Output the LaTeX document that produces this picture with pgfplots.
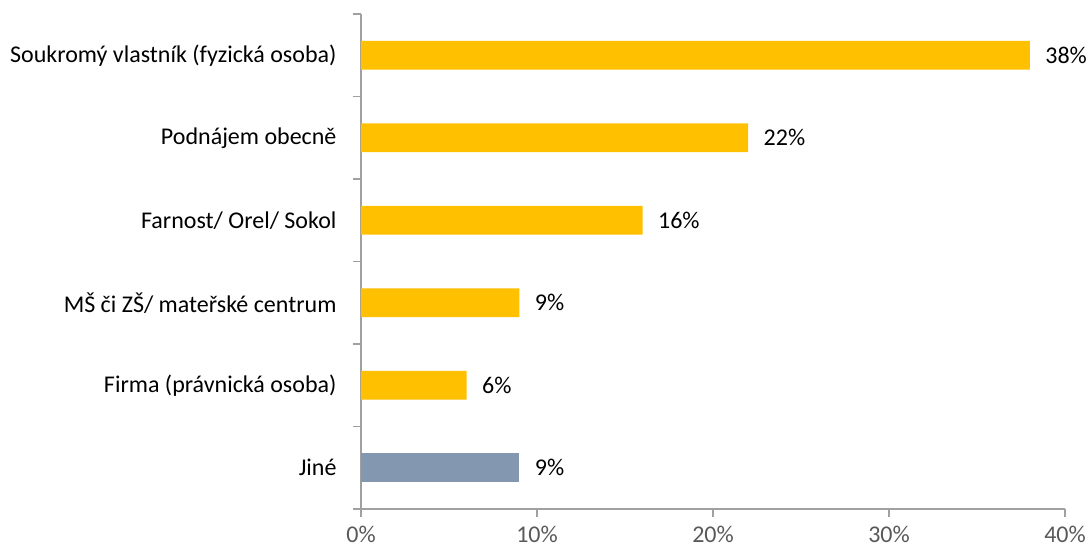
\documentclass[border=0pt]{standalone}
\usepackage{pgfplots}
\pgfplotsset{compat=1.18}
\usepackage{fontspec}
\setmainfont{Carlito}
\definecolor{baryel}{HTML}{FFC000}
\definecolor{bargray}{HTML}{8497B0}
\definecolor{axgray}{HTML}{A0A0A0}
\definecolor{txtgray}{HTML}{595959}
\begin{document}
\begin{tikzpicture}
\useasboundingbox (0pt,0pt) rectangle (1090pt,550pt);
\begin{axis}[
  at={(361pt,41pt)}, anchor=south west,
  scale only axis, width=704pt, height=495pt,
  xbar, bar width=0.35, bar shift=0pt,
  xmin=0, xmax=40,
  ymin=-0.5, ymax=5.5, y dir=reverse,
  axis x line*=bottom, axis y line*=left,
  axis line style={axgray, line width=1.3pt},
  x axis line style={-}, y axis line style={-},
  xtick={0,10,20,30,40},
  xticklabel={\pgfmathprintnumber{\tick}\%},
  /pgf/number format/assume math mode=true,
  xticklabel style={font=\fontsize{24}{27}\selectfont, text=txtgray, anchor=north, yshift=-6pt},
  x tick style={axgray, line width=1.3pt},
  tick align=outside,
  major tick length=8pt,
  ytick={0,1,2,3,4,5},
  yticklabels={Soukromý vlastník (fyzická osoba), Podnájem obecně, Farnost/ Orel/ Sokol, MŠ či ZŠ/ mateřské centrum, Firma (právnická osoba), Jiné},
  yticklabel style={font=\fontsize{24}{27}\selectfont, text=black, anchor=east, xshift=-13pt},
  y tick style={draw=none},
  extra y ticks={-0.5,0.5,1.5,2.5,3.5,4.5,5.5},
  extra y tick labels={},
  extra y tick style={y tick style={draw=axgray, line width=1.3pt}},
  nodes near coords={\pgfmathprintnumber{\pgfplotspointmeta}\%},
  every node near coord/.append style={font=\fontsize{24}{27}\selectfont, text=black, anchor=west, xshift=12pt},
  clip=false,
]
\addplot[fill=baryel, draw=none] coordinates {(38,0) (22,1) (16,2) (9,3) (6,4)};
\addplot[fill=bargray, draw=none] coordinates {(9,5)};
\end{axis}
\end{tikzpicture}
\end{document}
